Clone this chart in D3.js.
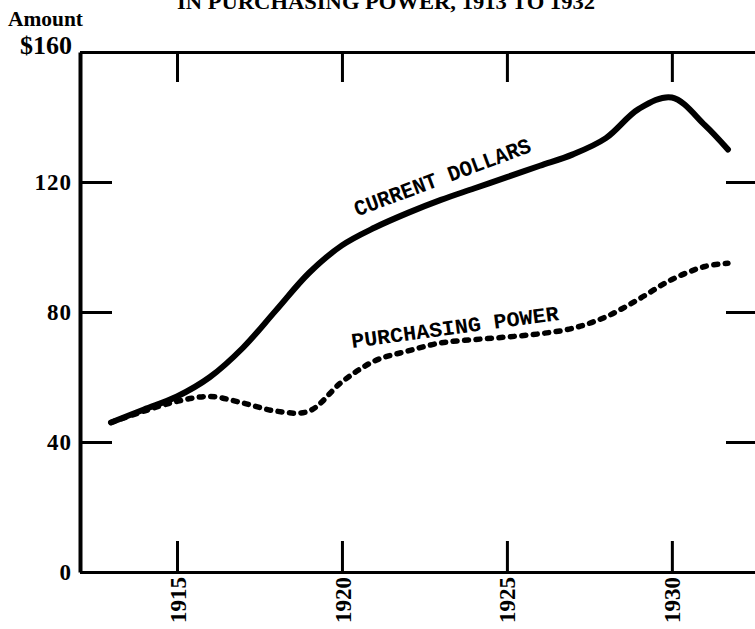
<!DOCTYPE html>
<html>
<head>
<meta charset="utf-8">
<script src="https://cdn.jsdelivr.net/npm/d3@7"></script>
<style>
  body { margin: 0; background: #fff; }
  svg { display: block; }
</style>
</head>
<body>
<div id="app"></div>
<script>
// values
const years = [1913, 1914, 1915, 1916, 1917, 1918, 1919, 1920, 1921, 1922,
               1923, 1924, 1925, 1926, 1927, 1928, 1929, 1930, 1931, 1931.7];
const currentDollars = [46, 50, 54, 60, 69, 80.5, 92, 100.5, 106, 110.5,
                        114.5, 118, 121.5, 125, 128.5, 133.5, 142.5, 146, 137.5, 130];
const purchasingPower = [46, 49.5, 52.5, 54, 52, 49.5, 49.5, 58.5, 65, 68,
                         70.5, 71.5, 72.3, 73.3, 75, 78.5, 84, 90, 94, 95];
const yTicks = [0, 40, 80, 120, 160];
const xTicks = [1915, 1920, 1925, 1930];

const W = 755, H = 629;
const serif = '"Liberation Serif", "DejaVu Serif", serif';
const mono = '"Liberation Mono", "DejaVu Sans Mono", monospace';

let svg = d3.select('#app').append('svg').attr('width', W).attr('height', H);

let x = d3.scaleLinear().domain([1912.06, 1932.52]).range([80, 755]);
let y = d3.scaleLinear().domain([0, 160]).range([572, 52]);

// title, mostly cut off at the top
svg.append('text')
    .attr('x', 386).attr('y', 9)
    .attr('text-anchor', 'middle')
    .attr('textLength', 418).attr('lengthAdjust', 'spacingAndGlyphs')
    .style('font', 'bold 20px ' + serif)
    .text('IN PURCHASING POWER, 1913 TO 1932');

svg.append('text')
    .attr('x', 8).attr('y', 26)
    .attr('textLength', 75).attr('lengthAdjust', 'spacingAndGlyphs')
    .style('font', 'bold 21px ' + serif)
    .text('Amount');

function styleAxis(g, w) {
    g.select('.domain').attr('stroke', '#000').attr('stroke-width', w);
    g.selectAll('.tick line').attr('stroke', '#000').attr('stroke-width', 3);
}

// left axis, ticks pointing in
let leftAxis = svg.append('g').attr('transform', 'translate(80,0)')
    .call(d3.axisLeft(y).tickValues(yTicks).tickSizeInner(-32).tickSizeOuter(0).tickPadding(8)
        .tickFormat(d => d === 160 ? '$160' : d));
styleAxis(leftAxis, 4);
leftAxis.selectAll('.tick text')
    .style('font', 'bold 23px ' + serif)
    .style('letter-spacing', '1px')
    .attr('fill', '#000');
leftAxis.selectAll('.tick').filter(d => d === 160).select('text')
    .attr('dy', '0.05em').style('font-size', '26px').style('letter-spacing', '0px');

// right ticks
let rightAxis = svg.append('g').attr('transform', 'translate(755,0)')
    .call(d3.axisRight(y).tickValues([40, 80, 120]).tickSizeInner(-29).tickSizeOuter(0).tickFormat(''));
styleAxis(rightAxis, 0);

// top ticks
let topAxis = svg.append('g').attr('transform', 'translate(0,' + y(160) + ')')
    .call(d3.axisTop(x).tickValues(xTicks).tickSizeInner(-30).tickSizeOuter(0).tickFormat(''));
styleAxis(topAxis, 3);

// bottom axis with rotated years
let bottomAxis = svg.append('g').attr('transform', 'translate(0,' + y(0) + ')')
    .call(d3.axisBottom(x).tickValues(xTicks).tickSizeInner(-31).tickSizeOuter(0).tickFormat(d3.format('d')));
styleAxis(bottomAxis, 3);
bottomAxis.selectAll('.tick text')
    .attr('transform', 'translate(0,5) rotate(-90)')
    .attr('x', 0).attr('y', 0).attr('dy', '0.35em')
    .attr('text-anchor', 'end')
    .style('font', 'bold 23px ' + serif)
    .attr('fill', '#000');

// lines
let line = d3.line().x(d => x(d[0])).y(d => y(d[1])).curve(d3.curveCatmullRom.alpha(0.5));

svg.append('path')
    .datum(years.map((yr, i) => [yr, currentDollars[i]]))
    .attr('d', line)
    .attr('fill', 'none').attr('stroke', '#000')
    .attr('stroke-width', 6).attr('stroke-linecap', 'round');

svg.append('path')
    .datum(years.map((yr, i) => [yr, purchasingPower[i]]))
    .attr('d', line)
    .attr('fill', 'none').attr('stroke', '#000')
    .attr('stroke-width', 5.5).attr('stroke-linecap', 'round')
    .attr('stroke-dasharray', '4,7.5');

// typewritten labels on the curves
svg.append('text')
    .attr('transform', 'translate(' + x(1923.12) + ',' + y(119.4) + ') rotate(-20.4)')
    .attr('text-anchor', 'middle')
    .attr('textLength', 187).attr('lengthAdjust', 'spacingAndGlyphs')
    .style('font', 'bold 22px ' + mono)
    .text('CURRENT DOLLARS');

svg.append('text')
    .attr('transform', 'translate(' + x(1923.45) + ',' + y(73.2) + ') rotate(-7.7)')
    .attr('text-anchor', 'middle')
    .attr('textLength', 209).attr('lengthAdjust', 'spacingAndGlyphs')
    .style('font', 'bold 21px ' + mono)
    .text('PURCHASING POWER');
</script>
</body>
</html>
